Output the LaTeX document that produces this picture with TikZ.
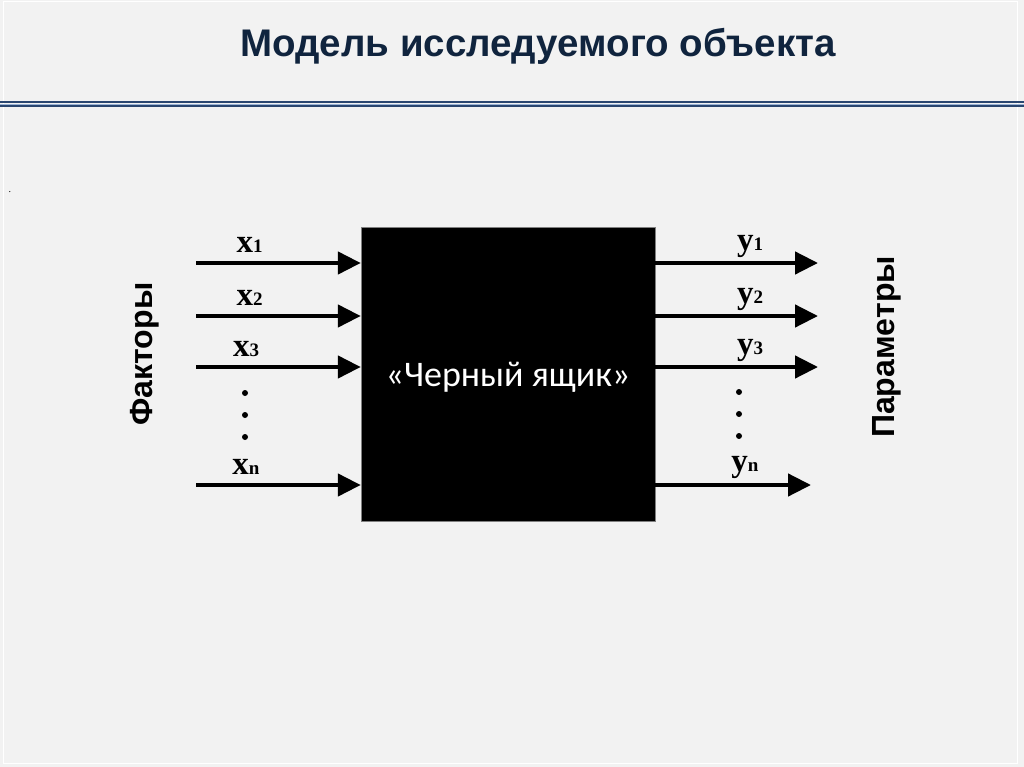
\documentclass[tikz,border=0pt]{standalone}
\usepackage{fontspec}
\setmainfont{Liberation Serif}
\newfontfamily\headfont{Liberation Sans}
\newfontfamily\boxfont{Carlito}
\usetikzlibrary{arrows.meta,positioning}
\definecolor{slidebg}{HTML}{F2F2F2}
\definecolor{titleblue}{HTML}{10243E}
\definecolor{rulenavy}{HTML}{2A4670}
\definecolor{rulelight}{HTML}{9AB3D6}
\tikzset{
	varlbl/.style={anchor=base,inner sep=0pt,font=\fontsize{33}{33}\selectfont\bfseries},
	sidelbl/.style={rotate=90,inner sep=0pt,font=\headfont\fontsize{32}{32}\selectfont\bfseries},
	flow/.style={->,line width=4.5pt},
}
\newcommand{\idx}[1]{{\fontsize{19}{19}\selectfont #1}}

\begin{document}
\begin{tikzpicture}[x=1pt,y=-1pt,>={Triangle[length=23pt,width=22pt]}]
	\fill[slidebg] (0,0) rectangle (1024,767);
	\useasboundingbox (0,0) rectangle (1024,767);
	\draw[white,line width=1pt] (3,1.5) rectangle (1017.5,763.5);
	% header
	\node[anchor=base,inner sep=0pt,text=titleblue,font=\headfont\fontsize{38.5}{38.5}\selectfont\bfseries] (title) at (538,57) {Модель исследуемого объекта};
	\draw[rulenavy,line width=2pt] (0,102.5)--(1024,102.5);
	\draw[rulelight,line width=1pt] (0,104.2)--(1024,104.2);
	\draw[rulenavy,line width=1.5pt] (0,105.8)--(1024,105.8);
	\node[inner sep=0pt,font=\fontsize{10}{10}\selectfont] (stray) at (10,192) {.};
	% black box
	\node[draw=gray,fill=black,minimum width=294pt,minimum height=294pt,text=white,text height=28pt,text depth=4pt,font=\boxfont\fontsize{36}{36}\selectfont] (box) at (508,374) {«Черный ящик»};
	% inputs
	\foreach \y/\i in {263/1,316/2,367/3,485/n}{
		\coordinate (in\i) at (196,\y);
		\draw[flow] (in\i)--(in\i -| box.west);
	};
	\foreach \px/\py/\t in {249.5/252.5/1,249.5/305.5/2,246/356.5/3,246/474.5/n}
		\node[varlbl] (lx\t) at (\px,\py) {x\idx{\t}};
	% outputs
	\foreach \y/\i/\e in {263/1/818,316/2/818,367/3/818,485/n/811}{
		\coordinate (out\i) at (\e,\y);
		\draw[flow] (out\i -| box.east)--(out\i);
	};
	\foreach \px/\py/\t in {750/250/1,750/303/2,750/354/3,745/471/n}
		\node[varlbl] (ly\t) at (\px,\py) {y\idx{\t}};
	% dots
	\foreach \y in {393,415,437}{
		\fill (245,\y) circle(3pt);
		\fill (739,\y-1) circle(3pt);
	};
	\node[sidelbl] (factors) at (145,354) {Факторы};
	\node[sidelbl] (params) at (887,347) {Параметры};
\end{tikzpicture}
\end{document}
